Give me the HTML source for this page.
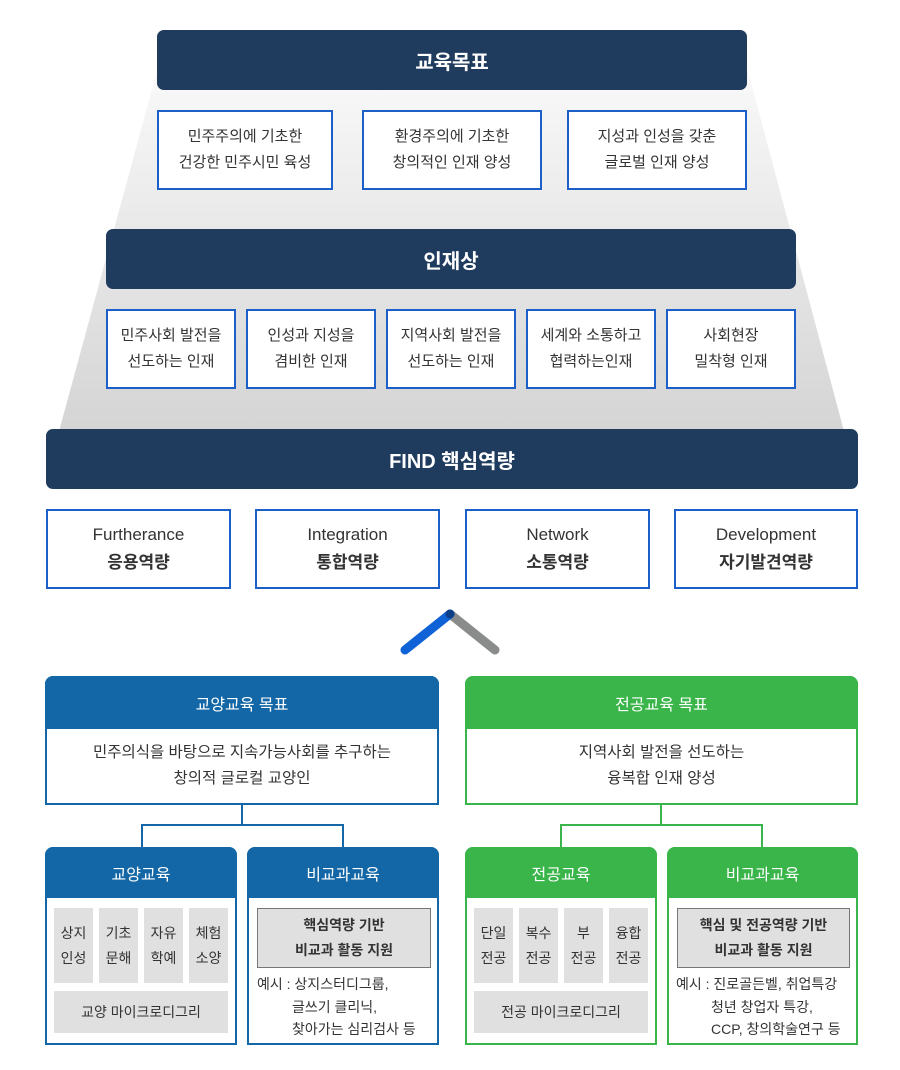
<!DOCTYPE html><html><head><meta charset="utf-8"><style>
*{margin:0;padding:0;box-sizing:border-box}
body{width:900px;height:1070px;background:#fff;position:relative;font-family:"Liberation Sans","Noto Sans CJK KR",sans-serif;color:#333;overflow:hidden}
.a{position:absolute}
.hd{position:absolute;background:#1f3b5e;color:#fff;border-radius:7px;display:flex;align-items:center;justify-content:center;font-size:20px;font-weight:bold}
.bx{position:absolute;background:#fff;border:2px solid #1c5fc7;display:flex;align-items:center;justify-content:center;text-align:center;font-size:15px;line-height:26px;color:#333}
.pn{position:absolute;border:2px solid;background:#fff;border-radius:8px 8px 0 0}
.ph{position:absolute;left:-2px;right:-2px;top:-2px;color:#fff;display:flex;align-items:center;justify-content:center;font-size:16px;border-radius:8px 8px 0 0}
.c{position:absolute;background:#e0e0e0;display:flex;align-items:center;justify-content:center;text-align:center;font-size:14px;line-height:25px;color:#333}
</style></head><body>
<svg class="a" style="left:0;top:0" width="900" height="1070">
<defs><linearGradient id="g" x1="0" y1="0" x2="0" y2="1"><stop offset="0" stop-color="#fafafa"/><stop offset="1" stop-color="#d4d4d4"/></linearGradient></defs>
<polygon points="160,60 745,60 845,435 58,435" fill="url(#g)"/>
<line x1="450" y1="614" x2="495" y2="650" stroke="#8a8c8b" stroke-width="9" stroke-linecap="round"/>
<line x1="405" y1="650" x2="450" y2="614" stroke="#1063d6" stroke-width="9" stroke-linecap="round"/>
<circle cx="450" cy="614" r="4.5" fill="#0c3f8a"/>
<path d="M242 805V825H142V847M242 825H343V847" stroke="#1467a6" stroke-width="2" fill="none"/>
<path d="M661 805V825H561V847M661 825H762V847" stroke="#39b54a" stroke-width="2" fill="none"/>
</svg>
<div class="hd" style="left:157px;top:30px;width:590px;height:60px">교육목표</div>
<div class="bx" style="left:157px;top:110px;width:176px;height:80px"><span>민주주의에 기초한<br>건강한 민주시민 육성</span></div>
<div class="bx" style="left:362px;top:110px;width:180px;height:80px"><span>환경주의에 기초한<br>창의적인 인재 양성</span></div>
<div class="bx" style="left:567px;top:110px;width:180px;height:80px"><span>지성과 인성을 갖춘<br>글로벌 인재 양성</span></div>
<div class="hd" style="left:106px;top:229px;width:690px;height:60px">인재상</div>
<div class="bx" style="left:106px;top:309px;width:130px;height:80px"><span>민주사회 발전을<br>선도하는 인재</span></div>
<div class="bx" style="left:246px;top:309px;width:130px;height:80px"><span>인성과 지성을<br>겸비한 인재</span></div>
<div class="bx" style="left:386px;top:309px;width:130px;height:80px"><span>지역사회 발전을<br>선도하는 인재</span></div>
<div class="bx" style="left:526px;top:309px;width:130px;height:80px"><span>세계와 소통하고<br>협력하는인재</span></div>
<div class="bx" style="left:666px;top:309px;width:130px;height:80px"><span>사회현장<br>밀착형 인재</span></div>
<div class="hd" style="left:46px;top:429px;width:812px;height:60px">FIND 핵심역량</div>
<div class="bx" style="left:46px;top:509px;width:185px;height:80px;font-size:17px;line-height:28px"><span>Furtherance<br><b>응용역량</b></span></div>
<div class="bx" style="left:255px;top:509px;width:185px;height:80px;font-size:17px;line-height:28px"><span>Integration<br><b>통합역량</b></span></div>
<div class="bx" style="left:465px;top:509px;width:185px;height:80px;font-size:17px;line-height:28px"><span>Network<br><b>소통역량</b></span></div>
<div class="bx" style="left:674px;top:509px;width:184px;height:80px;font-size:17px;line-height:28px"><span>Development<br><b>자기발견역량</b></span></div>

<div class="pn" style="left:45px;top:676px;width:394px;height:129px;border-color:#1467a6"><div class="ph" style="height:53px;background:#1467a6">교양교육 목표</div>
<div class="a" style="left:0;right:0;top:62px;text-align:center;font-size:15.5px;line-height:26px">민주의식을 바탕으로 지속가능사회를 추구하는<br>창의적 글로컬 교양인</div></div>
<div class="pn" style="left:465px;top:676px;width:393px;height:129px;border-color:#39b54a"><div class="ph" style="height:53px;background:#39b54a">전공교육 목표</div>
<div class="a" style="left:0;right:0;top:62px;text-align:center;font-size:15.5px;line-height:26px">지역사회 발전을 선도하는<br>융복합 인재 양성</div></div>

<div class="pn" style="left:45px;top:847px;width:192px;height:198px;border-color:#1467a6"><div class="ph" style="height:51px;background:#1467a6">교양교육</div></div>
<div class="c" style="left:54px;top:908px;width:39px;height:75px"><span>상지<br>인성</span></div>
<div class="c" style="left:99px;top:908px;width:39px;height:75px"><span>기초<br>문해</span></div>
<div class="c" style="left:144px;top:908px;width:39px;height:75px"><span>자유<br>학예</span></div>
<div class="c" style="left:189px;top:908px;width:39px;height:75px"><span>체험<br>소양</span></div>
<div class="c" style="left:54px;top:991px;width:174px;height:42px">교양 마이크로디그리</div>

<div class="pn" style="left:247px;top:847px;width:192px;height:198px;border-color:#1467a6"><div class="ph" style="height:51px;background:#1467a6">비교과교육</div></div>
<div class="c" style="left:257px;top:908px;width:174px;height:60px;border:1px solid #777;font-weight:bold;font-size:14px"><span>핵심역량 기반<br>비교과 활동 지원</span></div>
<div class="a" style="left:257px;top:973px;font-size:14px;line-height:22.5px;white-space:pre">예시 : 상지스터디그룹,
         글쓰기 클리닉,
         찾아가는 심리검사 등</div>

<div class="pn" style="left:465px;top:847px;width:192px;height:198px;border-color:#39b54a"><div class="ph" style="height:51px;background:#39b54a">전공교육</div></div>
<div class="c" style="left:474px;top:908px;width:39px;height:75px"><span>단일<br>전공</span></div>
<div class="c" style="left:519px;top:908px;width:39px;height:75px"><span>복수<br>전공</span></div>
<div class="c" style="left:564px;top:908px;width:39px;height:75px"><span>부<br>전공</span></div>
<div class="c" style="left:609px;top:908px;width:39px;height:75px"><span>융합<br>전공</span></div>
<div class="c" style="left:474px;top:991px;width:174px;height:42px">전공 마이크로디그리</div>

<div class="pn" style="left:667px;top:847px;width:191px;height:198px;border-color:#39b54a"><div class="ph" style="height:51px;background:#39b54a">비교과교육</div></div>
<div class="c" style="left:677px;top:908px;width:173px;height:60px;border:1px solid #777;font-weight:bold;font-size:14px"><span>핵심 및 전공역량 기반<br>비교과 활동 지원</span></div>
<div class="a" style="left:676px;top:973px;font-size:14px;line-height:22.5px;white-space:pre">예시 : 진로골든벨, 취업특강
         청년 창업자 특강,
         CCP, 창의학술연구 등</div>
</body></html>
